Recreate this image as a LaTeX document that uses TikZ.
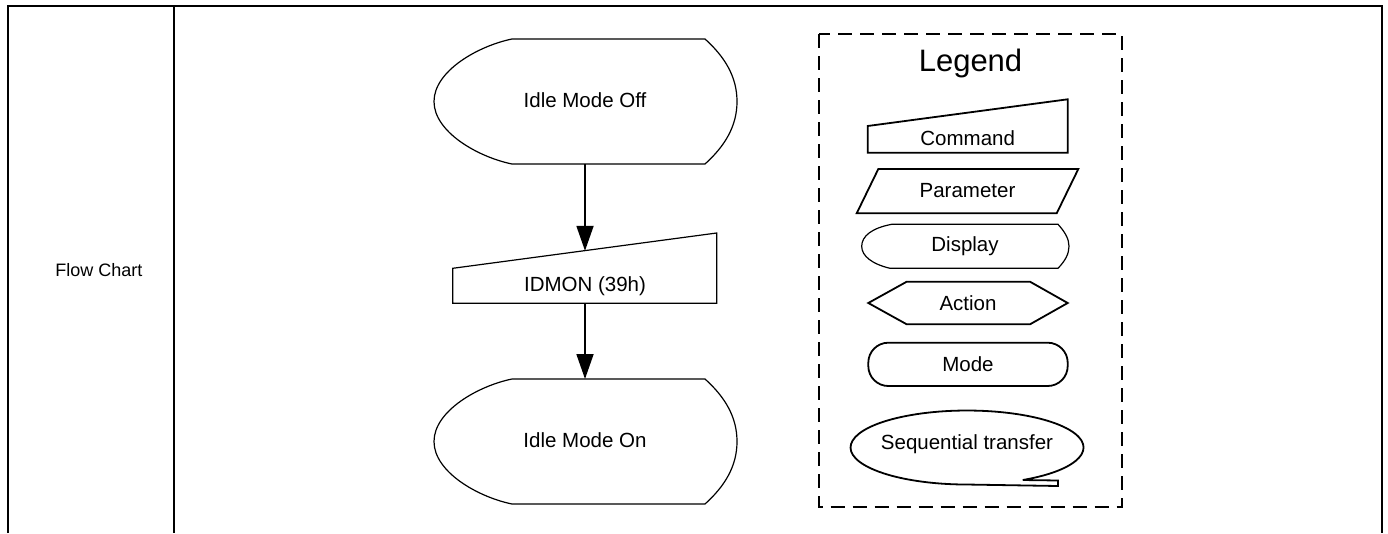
\documentclass[tikz,border=0pt]{standalone}
\usepackage{fontspec}
\setmainfont{Liberation Sans}
\usetikzlibrary{arrows.meta}
\begin{document}
\begin{tikzpicture}[x=1pt,y=1pt,
  frame/.style={line width=2pt},
  fshape/.style={draw, line width=1.2pt},
  lshape/.style={draw, line width=1.8pt},
  lbl/.style={font=\fontsize{20.5}{24}\selectfont, inner sep=0pt},
  arr/.style={line width=1.8pt, -{Triangle[length=25pt,width=17pt]}}]
\useasboundingbox (0,0) rectangle (1388,-533);

% table frame
\draw[frame] (8,-533) -- (8,-6) -- (1382,-6) -- (1382,-533);
\draw[frame] (174,-6) -- (174,-533);
\node[font=\fontsize{18}{22}\selectfont, inner sep=0pt] (fc) at (99,-270) {Flow Chart};

% Idle Mode Off (display)
\draw[fshape] (512,-39) -- (705,-39) .. controls (725,-57) and (737,-77) .. (737,-101.5)
  .. controls (737,-126) and (725,-146) .. (705,-164) -- (512,-164)
  .. controls (478,-157) and (434,-132) .. (434,-101.5)
  .. controls (434,-71) and (478,-46) .. (512,-39) -- cycle;
\node[lbl] (off) at (585,-100.5) {Idle Mode Off};
\coordinate (offb) at (585,-164);

% IDMON command
\draw[fshape] (452.7,-268.3) -- (716.7,-233) -- (716.7,-303.3) -- (452.7,-303.3) -- cycle;
\node[lbl] (cmd) at (585,-286) {IDMON (39h)};
\coordinate (cmdt) at (585,-250.8);
\coordinate (cmdb) at (585,-303.3);

% Idle Mode On (display)
\draw[fshape] (512,-379) -- (705,-379) .. controls (725,-397) and (737,-417) .. (737,-441.5)
  .. controls (737,-466) and (725,-486) .. (705,-504) -- (512,-504)
  .. controls (478,-497) and (434,-472) .. (434,-441.5)
  .. controls (434,-411) and (478,-386) .. (512,-379) -- cycle;
\node[lbl] (on) at (585,-440.5) {Idle Mode On};
\coordinate (ont) at (585,-379);

\draw[arr] (offb) -- (cmdt);
\draw[arr] (cmdb) -- (ont);

% Legend
\draw[line width=1.8pt, dash pattern=on 14pt off 8pt] (819.3,-34) rectangle (1121.7,-506.7);
\node[font=\fontsize{31}{36}\selectfont, inner sep=0pt] (lg) at (970.5,-63) {Legend};

\draw[lshape] (867.7,-126) -- (1067.7,-99.3) -- (1067.7,-152.7) -- (867.7,-152.7) -- cycle;
\node[lbl] (lcmd) at (967.7,-138.5) {Command};

\draw[lshape] (878.3,-169) -- (1078.3,-169) -- (1056.7,-213.3) -- (856.7,-213.3) -- cycle;
\node[lbl] (lpar) at (967.5,-191) {Parameter};

\draw[fshape] (891.7,-224.3) -- (1058,-224.3) .. controls (1065,-232) and (1069,-239) .. (1069,-246.3)
  .. controls (1069,-254) and (1065,-261) .. (1058,-268.3) -- (890,-268.3)
  .. controls (872,-264) and (861.7,-256) .. (861.7,-246.3)
  .. controls (861.7,-236) and (872,-228) .. (891.7,-224.3) -- cycle;
\node[lbl] (ldis) at (965,-246) {Display};

\draw[lshape] (868.3,-303) -- (906.7,-281.7) -- (1030,-281.7) -- (1067.7,-303) -- (1030,-324.3) -- (906.7,-324.3) -- cycle;
\node[lbl] (lact) at (968,-303) {Action};

\draw[lshape, rounded corners=20pt] (868.3,-342.7) rectangle (1067.7,-386);
\node[lbl] (lmode) at (968,-364) {Mode};

\draw[lshape] (1058,-480.5) -- (1022.8,-480) arc[start angle=-61.4, end angle=270, x radius=116.5, y radius=37] -- (1058,-486) -- cycle;
\node[lbl] (lseq) at (967,-444) {Sequential transfer};
\end{tikzpicture}
\end{document}
